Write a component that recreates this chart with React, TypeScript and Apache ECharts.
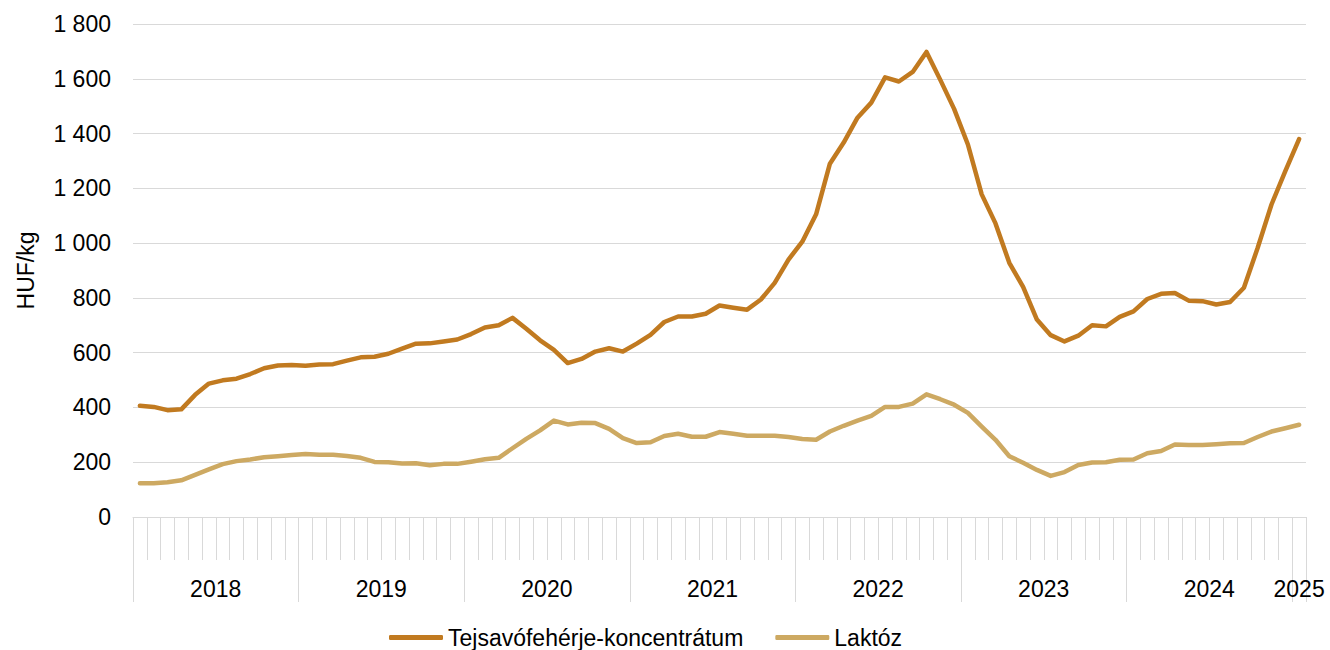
import React, { useEffect, useRef } from "react";
import * as echarts from "echarts";

const years = ["2018", "2019", "2020", "2021", "2022", "2023", "2024", "2025"];
const monthsPerYear = [12, 12, 12, 12, 12, 12, 12, 1];

// monthly categories: Jan 2018 .. Jan 2025
const months: string[] = [];
years.forEach((y, yi) => {
  for (let m = 1; m <= monthsPerYear[yi]; m++) months.push(`${y}-${String(m).padStart(2, "0")}`);
});

const tejsavo = [
  406, 402, 390, 393, 446, 487, 499, 505, 522, 543, 553, 555,
  552, 557, 558, 571, 583, 585, 596, 615, 633, 634, 641, 648,
  668, 692, 700, 727, 687, 645, 610, 562, 577, 604, 616, 604,
  633, 665, 712, 732, 732, 742, 772, 764, 757, 794, 855, 940,
  1005, 1105, 1290, 1367, 1458, 1513, 1605, 1590, 1625, 1698, 1596, 1490,
  1360, 1178, 1072, 928, 840, 721, 664, 641, 662, 700, 696, 731,
  751, 796, 815, 818, 790, 788, 776, 785, 837, 983, 1141, 1263,
  1380,
];

const laktoz = [
  123, 123, 127, 134, 154, 174, 193, 204, 210, 218, 222, 226,
  230, 227, 227, 223, 216, 201, 200, 195, 196, 189, 194, 194,
  202, 211, 216, 251, 285, 316, 352, 338, 344, 343, 322, 288,
  270, 273, 296, 304, 293, 293, 310, 304, 297, 297, 297, 292,
  285, 282, 312, 333, 352, 369, 402, 402, 414, 448, 430, 410,
  380, 330, 282, 222, 198, 172, 150, 164, 190, 199, 200, 209,
  210, 233, 241, 265, 263, 263, 266, 269, 270, 292, 312, 324,
  337,
];

const seriesNames = ["Tejsavófehérje-koncentrátum", "Laktóz"];
const colors = ["#C17A20", "#CDA962"];
const FONT = 'Arial, "Liberation Sans", sans-serif';
const FS = 23;

function fmtThousands(v: number): string {
  if (v >= 1000) return `${Math.floor(v / 1000)} ${String(v % 1000).padStart(3, "0")}`;
  return String(v);
}

export default function App() {
  const ref = useRef<HTMLDivElement>(null);
  useEffect(() => {
    document.body.style.margin = "0";
    if (!ref.current) return;
    const chart = echarts.init(ref.current, undefined, { renderer: "svg" });
    chart.setOption({
      animation: false,
      textStyle: { fontFamily: FONT },
      grid: { left: 133, right: 24, top: 24, bottom: 133, containLabel: false },
      legend: {
        data: seriesNames,
        left: 389,
        top: 626,
        padding: 0,
        itemGap: 32,
        itemWidth: 54,
        itemHeight: 5,
        icon: "roundRect",
        textStyle: { fontSize: FS, color: "#000", fontFamily: FONT },
      },
      xAxis: [
        {
          type: "category",
          data: months,
          position: "bottom",
          boundaryGap: true,
          axisLine: { show: true, onZero: false, lineStyle: { color: "#D9D9D9", width: 1 } },
          axisTick: { show: true, interval: 0, length: 43, lineStyle: { color: "#D9D9D9", width: 1 } },
          axisLabel: { show: false },
          splitLine: { show: false },
        },
        {
          type: "category",
          data: months,
          position: "bottom",
          boundaryGap: true,
          axisLine: { show: false, onZero: false },
          axisTick: {
            show: true,
            interval: (index: number) => index % 12 === 0,
            length: 85,
            lineStyle: { color: "#D9D9D9", width: 1 },
          },
          axisLabel: {
            show: true,
            interval: 0,
            margin: 60,
            fontSize: FS,
            color: "#000",
            fontFamily: FONT,
            formatter: (value: string, index: number) => {
              const y = value.slice(0, 4);
              const yi = years.indexOf(y);
              if (monthsPerYear[yi] === 12 && index % 12 === 6) return `{s|${y}}`;
              if (monthsPerYear[yi] === 1) return `{n|${y}}`;
              return "";
            },
            rich: {
              s: { fontSize: FS, color: "#000", fontFamily: FONT, padding: [0, 14, 0, 0] },
              n: { fontSize: FS, color: "#000", fontFamily: FONT },
            },
          },
          splitLine: { show: false },
        },
      ],
      yAxis: {
        type: "value",
        min: 0,
        max: 1800,
        interval: 200,
        name: "HUF/kg",
        nameLocation: "middle",
        nameRotate: 90,
        nameGap: 96,
        nameTextStyle: { fontSize: FS, color: "#000", fontFamily: FONT },
        axisLine: { show: false },
        axisTick: { show: false },
        axisLabel: {
          margin: 22,
          fontSize: FS,
          color: "#000",
          fontFamily: FONT,
          formatter: (v: number) => fmtThousands(v),
        },
        splitLine: { show: true, lineStyle: { color: "#D9D9D9", width: 1 } },
      },
      series: [
        {
          name: seriesNames[0],
          type: "line",
          data: tejsavo,
          xAxisIndex: 0,
          symbol: "none",
          color: colors[0],
          lineStyle: { width: 4.5, color: colors[0], cap: "round", join: "round" },
        },
        {
          name: seriesNames[1],
          type: "line",
          data: laktoz,
          xAxisIndex: 0,
          symbol: "none",
          color: colors[1],
          lineStyle: { width: 4.5, color: colors[1], cap: "round", join: "round" },
        },
      ],
    });
    return () => chart.dispose();
  }, []);
  return <div ref={ref} style={{ width: 1330, height: 650 }} />;
}
